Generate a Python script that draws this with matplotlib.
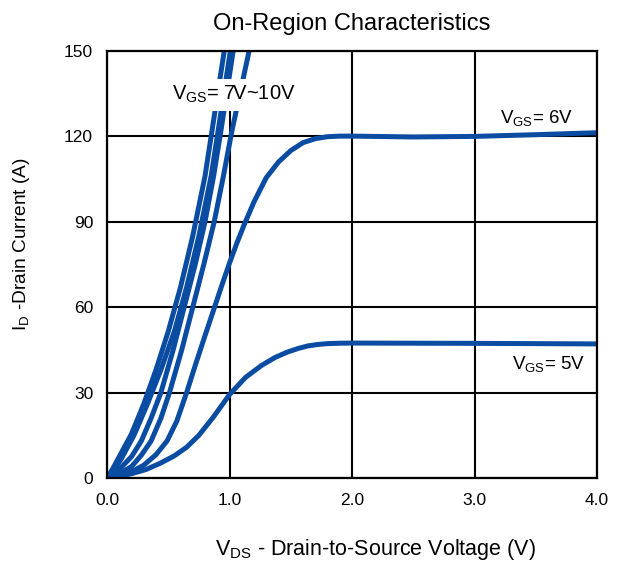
import matplotlib
matplotlib.use("Agg")
import matplotlib.pyplot as plt

plt.rcParams['font.family'] = ['Liberation Sans', 'DejaVu Sans']
plt.rcParams['mathtext.fontset'] = 'custom'
plt.rcParams['mathtext.rm'] = 'Liberation Sans'

# Drain current curves: (V_DS in volts, I_D in amps) per gate voltage
vds_10v = [0.0, 0.05, 0.1, 0.2, 0.3, 0.4, 0.5, 0.6, 0.7, 0.8, 0.9, 1.0]
id_10v = [0.0, 3.5, 7.5, 15.5, 26.0, 38.0, 51.5, 67.0, 85.0, 106.0, 134.0, 162.0]

vds_9v = [0.0, 0.06, 0.12, 0.22, 0.33, 0.44, 0.55, 0.65, 0.75, 0.85, 0.95, 1.05]
id_9v = [0.0, 3.0, 7.0, 15.0, 26.0, 38.0, 51.5, 67.0, 85.0, 106.0, 134.0, 162.0]

vds_8v = [0.0, 0.1, 0.2, 0.28, 0.36, 0.44, 0.54, 0.63, 0.72, 0.80, 0.87, 0.93, 0.98, 1.03, 1.08]
id_8v = [0.0, 3.0, 7.5, 13.0, 21.0, 30.0, 45.0, 60.0, 75.0, 90.0, 106.0, 122.0, 136.0, 150.0, 165.0]

vds_7v = [0.0, 0.1, 0.2, 0.28, 0.36, 0.44, 0.51, 0.61, 0.70, 0.79, 0.875, 0.95, 1.02, 1.09, 1.16, 1.2]
id_7v = [0.0, 1.5, 4.0, 8.0, 13.0, 21.0, 30.0, 45.0, 60.0, 75.0, 90.0, 106.0, 122.0, 136.0, 150.0, 158.0]

vds_6v = [0.0, 0.1, 0.2, 0.3, 0.4, 0.49, 0.57, 0.65, 0.72, 0.8, 0.87, 0.94, 1.0, 1.06, 1.12,
          1.2, 1.3, 1.4, 1.5, 1.6, 1.7, 1.8, 1.9, 2.0, 2.5, 3.0, 3.5, 4.0]
id_6v = [0.0, 0.8, 2.2, 4.5, 8.2, 13.0, 20.0, 30.0, 39.5, 50.0, 59.0, 68.0, 75.5, 82.5, 89.0,
         97.0, 105.5, 111.0, 115.0, 117.8, 119.2, 119.9, 120.1, 120.1, 119.8, 120.0, 120.6, 121.3]

vds_5v = [0.0, 0.1, 0.2, 0.32, 0.44, 0.55, 0.65, 0.75, 0.87, 1.0, 1.13, 1.26, 1.37, 1.47, 1.56,
          1.64, 1.72, 1.8, 1.9, 2.0, 3.0, 4.0]
id_5v = [0.0, 0.6, 1.5, 3.0, 5.3, 7.8, 10.8, 15.0, 21.5, 29.3, 35.3, 39.5, 42.3, 44.2, 45.5,
         46.4, 46.9, 47.2, 47.35, 47.4, 47.3, 47.1]

curves = [
    (vds_10v, id_10v),
    (vds_9v, id_9v),
    (vds_8v, id_8v),
    (vds_7v, id_7v),
    (vds_6v, id_6v),
    (vds_5v, id_5v),
]

x_ticks = [0.0, 1.0, 2.0, 3.0, 4.0]
x_tick_labels = ["0.0", "1.0", "2.0", "3.0", "4.0"]
y_ticks = [0, 30, 60, 90, 120, 150]
y_tick_labels = ["0", "30", "60", "90", "120", "150"]

curve_color = "#0B4CA3"

fig = plt.figure(figsize=(6.23, 5.64), dpi=100)
ax = fig.add_axes([107 / 623, 1 - 478 / 564, (597 - 107) / 623, (478 - 51) / 564])

for vds, cur in curves:
    ax.plot(vds, cur, color=curve_color, lw=3.6, solid_capstyle="round",
            solid_joinstyle="round", zorder=3)

ax.set_xlim(0, 4)
ax.set_ylim(0, 150)
ax.set_xticks(x_ticks)
ax.set_xticklabels(x_tick_labels)
ax.set_yticks(y_ticks)
ax.set_yticklabels(y_tick_labels)
ax.tick_params(length=0, labelsize=12.5)
ax.tick_params(axis="x", pad=11)
ax.tick_params(axis="y", pad=10)
ax.grid(True, color="black", lw=1.5, zorder=1)
ax.set_axisbelow(True)
for sp in ax.spines.values():
    sp.set_linewidth(1.6)
    sp.set_color("black")
    sp.set_zorder(4)

ax.set_title("On-Region Characteristics", fontsize=17, pad=15)
ax.set_xlabel(r"V$_{\mathrm{DS}}$ - Drain-to-Source Voltage (V)", fontsize=15.5)
ax.xaxis.set_label_coords(0.547, -0.138)
ax.set_ylabel(r"I$_{\mathrm{D}}$ -Drain Current (A)", fontsize=13.8)
ax.yaxis.set_label_coords(-0.153, 0.548)

ax.text(0.53, 134.6, r"V$_{\mathrm{GS}}$= 7V~10V", fontsize=14.5, ha="left", va="center",
        zorder=5, bbox=dict(facecolor="white", edgecolor="none", pad=4))
ax.text(3.21, 126, r"V$_{\mathrm{GS}}$= 6V", fontsize=13.5, ha="left", va="center", zorder=5)
ax.text(3.31, 39.6, r"V$_{\mathrm{GS}}$= 5V", fontsize=13.5, ha="left", va="center", zorder=5)

fig.savefig("out.png", dpi=100)
